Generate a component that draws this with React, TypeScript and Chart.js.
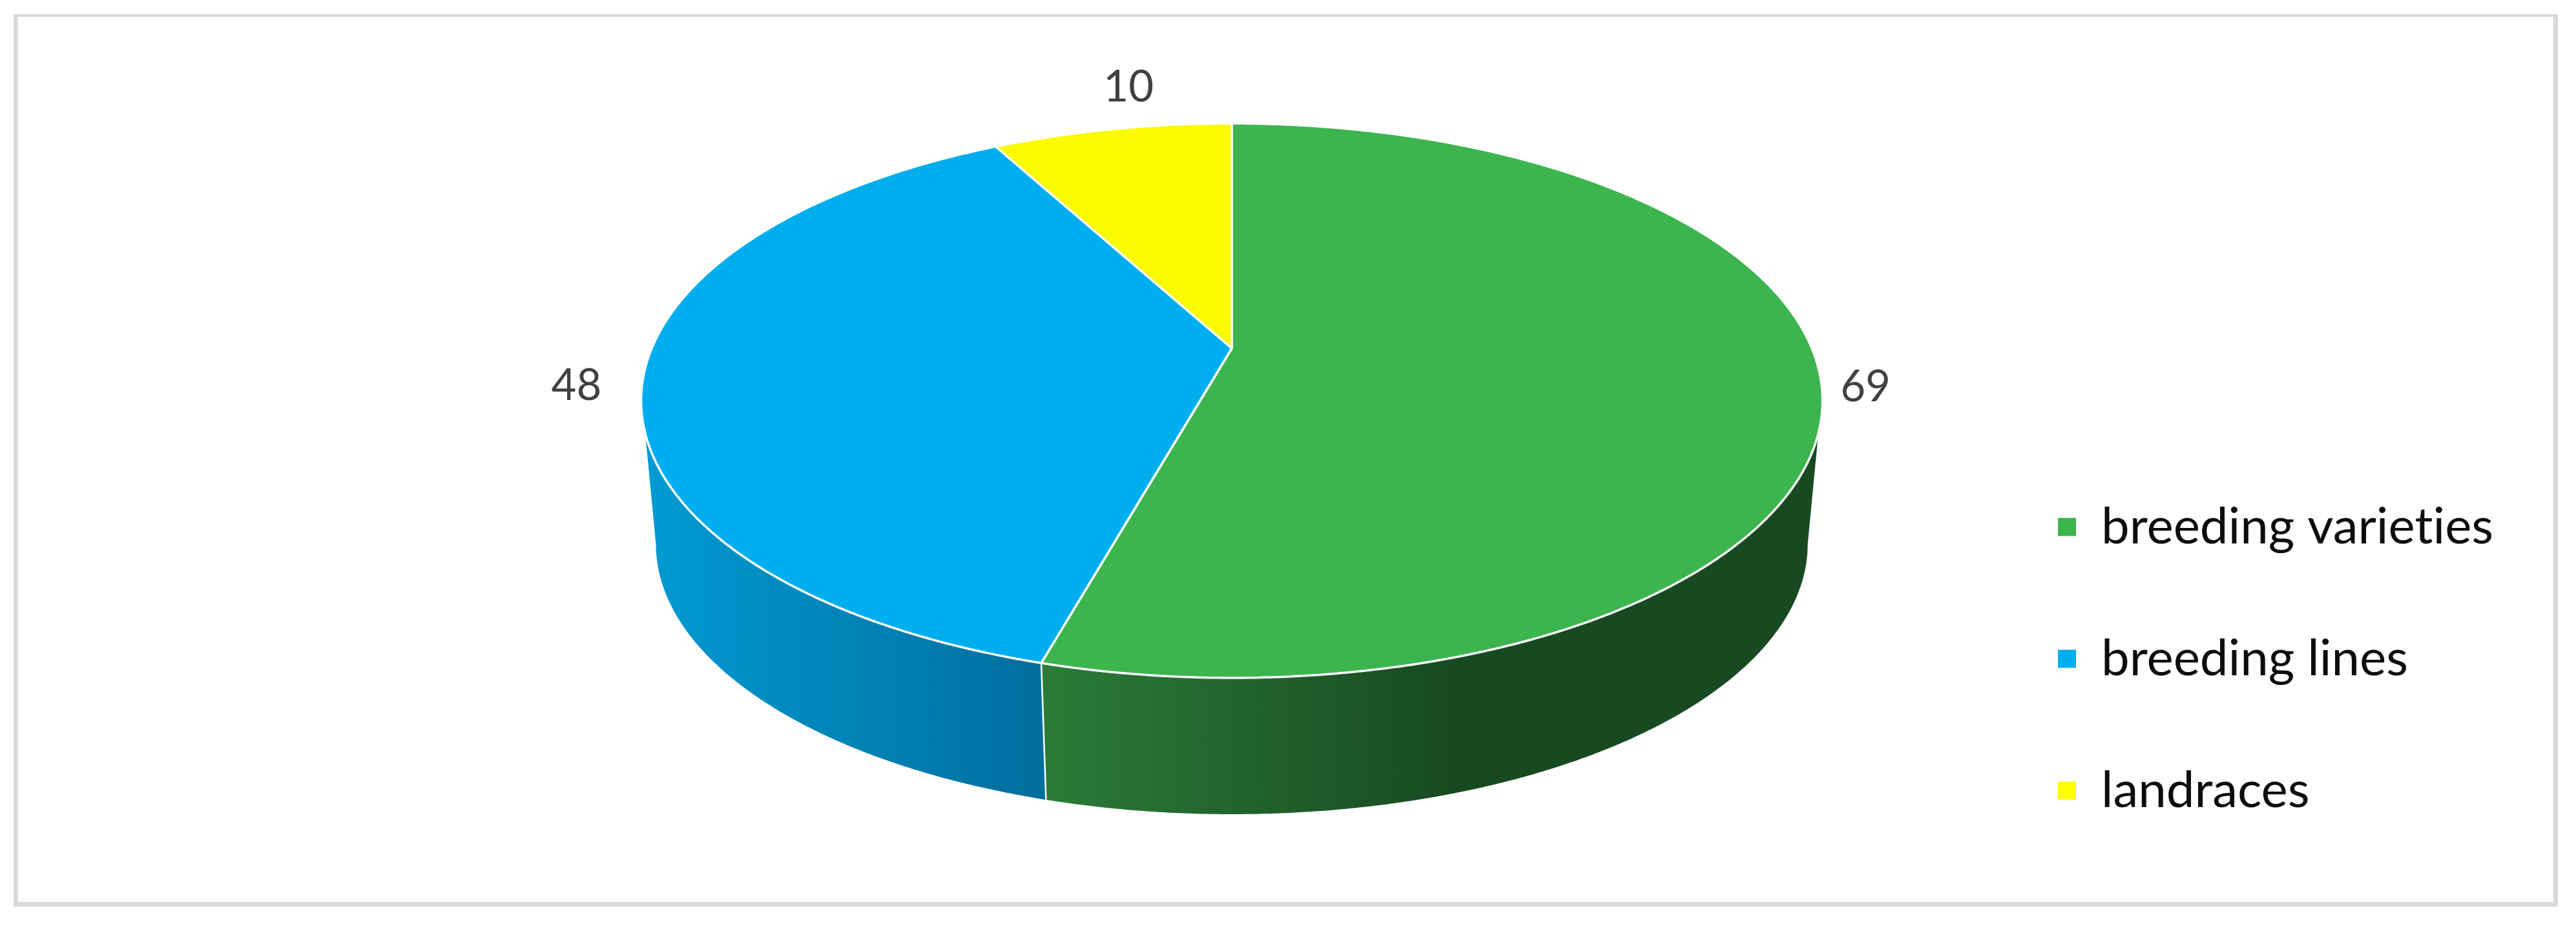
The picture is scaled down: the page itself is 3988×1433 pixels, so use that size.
import React, { useEffect, useRef } from "react";
import { Chart, registerables } from "chart.js";

Chart.register(...registerables);

const categories = ["breeding varieties", "breeding lines", "landraces"];
const seriesValues = [69, 48, 10];
const legendColors = ["#3cb54f", "#00aeef", "#ffff00"];
const sliceColors = ["#3cb54f", "#00aeef", "#fbfb00"];
const wallGradients = [
  [[1625, "#2a7b37"], [2240, "#184a22"], [2821, "#184a22"]],
  [[1013, "#0099d1"], [1611, "#006e9e"]],
  [[1560, "#b0b000"], [1907, "#8f8f00"]],
];
const labelOffsets = [[68, 3], [-103, 11], [26, -65]];

const CANVAS_W = 3988;
const CANVAS_H = 1433;
const APEX_X = 1907;
const APEX_Y = 539;
const RADIUS = 898;
const PERSPECTIVE = 0.1888;
const SQUASH = 0.4607;
const WALL_DROP = 223.75;
const WALL_SCALE = 0.975;
const TOP_TANGENT = 0.305;
const BOTTOM_TANGENT = 0.19;
const LEGEND_PADDING = 126;
const LEGEND_FONT = 78;

function project(arc: any, a: number, lower: boolean) {
  const u = Math.cos(a);
  const v = Math.sin(a);
  const den = 1 - PERSPECTIVE * v;
  const s = lower ? WALL_SCALE : 1;
  return {
    x: arc.x + (s * arc.outerRadius * u) / den,
    y: arc.y + (lower ? WALL_DROP : 0) + (s * arc.outerRadius * SQUASH * v) / den,
  };
}

function rim(arc: any, a0: number, a1: number, lower: boolean) {
  const n = Math.max(2, Math.ceil(Math.abs(a1 - a0) / 0.006));
  const pts = [];
  for (let i = 0; i <= n; i++) pts.push(project(arc, a0 + ((a1 - a0) * i) / n, lower));
  return pts;
}

const framePlugin = {
  id: "frame",
  beforeDraw(chart: any) {
    const c = chart.ctx;
    c.textRendering = "optimizeSpeed";
    c.save();
    c.fillStyle = "#d9d9d9";
    c.fillRect(21, 22, 3939, 4);
    c.fillRect(21, 1396, 3936, 7);
    c.fillRect(21, 22, 7, 1381);
    c.fillRect(3953, 22, 7, 1380);
    c.restore();
  },
};

const layoutPlugin = {
  id: "placement",
  afterLayout(chart: any) {
    chart.chartArea = {
      left: APEX_X - RADIUS,
      right: APEX_X + RADIUS,
      top: APEX_Y - RADIUS,
      bottom: APEX_Y + RADIUS,
      width: RADIUS * 2,
      height: RADIUS * 2,
    };
    const lg = chart.legend;
    const w = lg.width;
    const h = lg.height;
    lg.left = 3186 - LEGEND_PADDING;
    lg.right = lg.left + w;
    lg.top = 815.5 - LEGEND_FONT / 2 - LEGEND_PADDING;
    lg.bottom = lg.top + h;
  },
};

const pie3dPlugin = {
  id: "pie3d",
  beforeDatasetsDraw(chart: any) {
    const c = chart.ctx;
    const arcs = chart.getDatasetMeta(0).data;
    c.save();
    c.lineJoin = "round";
    arcs.forEach((arc: any, i: number) => {
      const pa = arc.getProps(["x", "y", "outerRadius", "startAngle", "endAngle"], true);
      const tA = Math.max(pa.startAngle, TOP_TANGENT);
      const tB = Math.min(pa.endAngle, Math.PI - TOP_TANGENT);
      const bA = Math.max(pa.startAngle, BOTTOM_TANGENT);
      const bB = Math.min(pa.endAngle, Math.PI - BOTTOM_TANGENT);
      if (tB <= tA || bB <= bA) return;
      const pts = [...rim(pa, tA, tB, false), ...rim(pa, bB, bA, true)];
      const stops = wallGradients[i] as [number, string][];
      const x0 = stops[0][0];
      const x1 = stops[stops.length - 1][0];
      const g = c.createLinearGradient(x0, 0, x1, 0);
      stops.forEach(([x, col]) => g.addColorStop((x - x0) / (x1 - x0), col));
      c.beginPath();
      pts.forEach((p, j) => (j ? c.lineTo(p.x, p.y) : c.moveTo(p.x, p.y)));
      c.closePath();
      c.fillStyle = g;
      c.fill();
    });
    arcs.forEach((arc: any) => {
      const pa = arc.getProps(["x", "y", "outerRadius", "startAngle", "endAngle"], true);
      const e = pa.endAngle;
      if (Math.sin(e) > 0.3) {
        const t = project(pa, e, false);
        const b = project(pa, e, true);
        c.beginPath();
        c.moveTo(t.x, t.y);
        c.lineTo(b.x, b.y);
        c.strokeStyle = "#ffffff";
        c.lineWidth = 2.5;
        c.stroke();
      }
    });
    arcs.forEach((arc: any, i: number) => {
      const pa = arc.getProps(["x", "y", "outerRadius", "startAngle", "endAngle"], true);
      const pts = rim(pa, pa.startAngle, pa.endAngle, false);
      c.beginPath();
      c.moveTo(pa.x, pa.y);
      pts.forEach((p) => c.lineTo(p.x, p.y));
      c.closePath();
      c.fillStyle = sliceColors[i];
      c.fill();
      c.strokeStyle = "#ffffff";
      c.lineWidth = 3.5;
      c.stroke();
    });
    c.fillStyle = "#404040";
    c.font = "67px Lato";
    c.textAlign = "center";
    c.textBaseline = "middle";
    arcs.forEach((arc: any, i: number) => {
      const pa = arc.getProps(["x", "y", "outerRadius", "startAngle", "endAngle"], true);
      const p = project(pa, (pa.startAngle + pa.endAngle) / 2, false);
      c.fillText(String(seriesValues[i]), p.x + labelOffsets[i][0], p.y + labelOffsets[i][1]);
    });
    c.restore();
    return false;
  },
};

export default function App() {
  const ref = useRef<HTMLCanvasElement>(null);
  useEffect(() => {
    const chart = new Chart(ref.current as HTMLCanvasElement, {
      type: "pie",
      data: {
        labels: categories,
        datasets: [{ data: seriesValues, backgroundColor: legendColors, borderWidth: 0 }],
      },
      options: {
        animation: false,
        responsive: false,
        layout: { padding: 0 },
        plugins: {
          tooltip: { enabled: false },
          title: { display: false },
          legend: {
            display: true,
            position: "right",
            align: "start",
            labels: {
              color: "#0d0d0d",
              boxWidth: 28,
              boxHeight: 28,
              padding: LEGEND_PADDING,
              font: { family: "Lato", size: LEGEND_FONT },
            },
          },
        },
      },
      plugins: [framePlugin, layoutPlugin, pie3dPlugin],
    } as any);
    return () => chart.destroy();
  }, []);
  return (
    <canvas
      ref={ref}
      width={CANVAS_W}
      height={CANVAS_H}
      style={{ position: "fixed", left: 0, top: 0, width: CANVAS_W, height: CANVAS_H, display: "block" }}
    />
  );
}
